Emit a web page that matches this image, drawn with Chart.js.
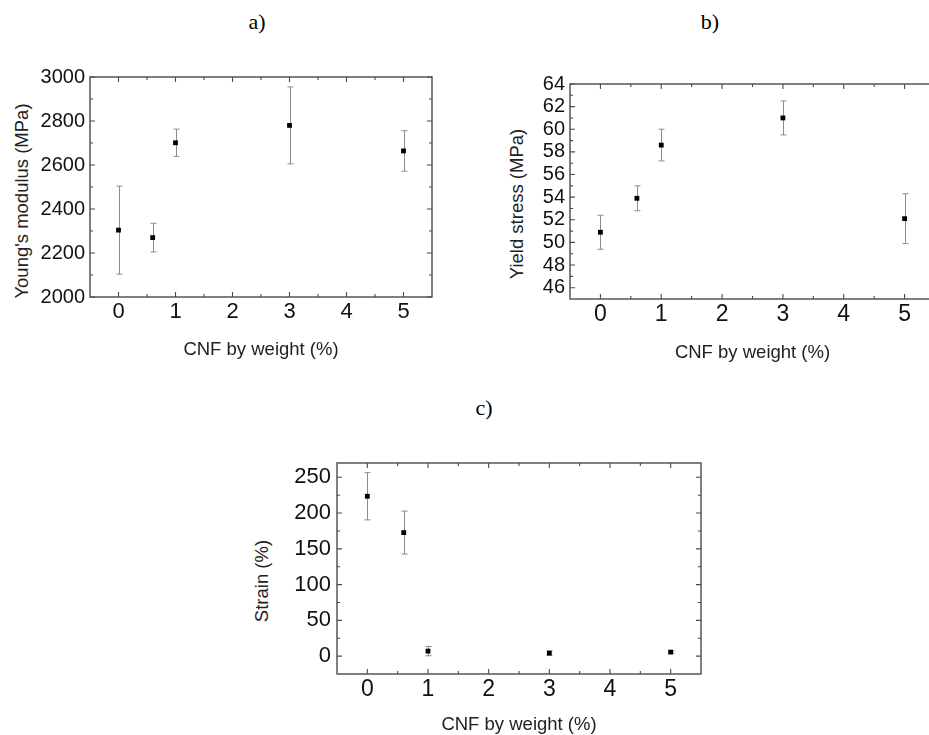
<!DOCTYPE html>
<html>
<head>
<meta charset="utf-8">
<script src="https://cdn.jsdelivr.net/npm/chart.js@4.4.0/dist/chart.umd.min.js"></script>
<style>
  html, body { margin: 0; padding: 0; background: #fff; }
  body { width: 929px; height: 735px; position: relative; overflow: hidden; }
  .box { position: absolute; }
  .panel { position: absolute; font-family: "Liberation Serif", "Times New Roman", serif;
           font-size: 22px; color: #000; transform: translate(-50%, -50%); white-space: nowrap; }
  .ytitle { position: absolute; font-family: "Liberation Sans", Arial, sans-serif; font-size: 18.5px;
            color: #222; white-space: nowrap; transform: translate(-50%, -50%) rotate(-90deg); }
</style>
</head>
<body>
<div class="panel" style="left:257px; top:22px;">a)</div>
<div class="panel" style="left:710px; top:22px;">b)</div>
<div class="panel" style="left:484px; top:408px;">c)</div>

<div class="ytitle" style="left:22px; top:201px;">Young's modulus (MPa)</div>
<div class="ytitle" style="left:517px; top:204px;">Yield stress (MPa)</div>
<div class="ytitle" style="left:262px; top:581px;">Strain (%)</div>

<div class="box" style="left:0px; top:0px; width:460px; height:380px;"><canvas id="chartA"></canvas></div>
<div class="box" style="left:490px; top:0px; width:470px; height:380px;"><canvas id="chartB"></canvas></div>
<div class="box" style="left:250px; top:390px; width:480px; height:360px;"><canvas id="chartC"></canvas></div>

<script>
// ---- data ----
const cnf = [0, 0.6, 1, 3, 5];

const youngMod = [2304, 2270, 2701, 2780, 2664];
const youngErr = [200, 65, 62, 175, 92];

const yieldStress = [50.9, 53.9, 58.6, 61.0, 52.1];
const yieldErr = [1.5, 1.1, 1.4, 1.5, 2.2];

const strain = [223.5, 172.7, 7, 4.2, 5.6];
const strainErr = [33, 30, 6.5, 3, 1.5];

const xTicks = [0, 1, 2, 3, 4, 5];
const youngTicks = [2000, 2200, 2400, 2600, 2800, 3000];
const yieldTicks = [46, 48, 50, 52, 54, 56, 58, 60, 62, 64];
const strainTicks = [0, 50, 100, 150, 200, 250];

const SANS = '"Liberation Sans", Arial, sans-serif';

// error bars, drawn under the markers
const errorBars = {
  id: "errorBars",
  beforeDatasetsDraw(chart) {
    const { ctx, scales: { x, y } } = chart;
    ctx.save();
    ctx.strokeStyle = "#8c8c8c";
    ctx.lineWidth = 1;
    chart.data.datasets.forEach((ds) => {
      if (!ds.errors) return;
      ds.data.forEach((p, i) => {
        const e = ds.errors[i];
        const px = Math.round(x.getPixelForValue(p.x)) + 0.5;
        const yt = y.getPixelForValue(p.y + e);
        const yb = y.getPixelForValue(p.y - e);
        ctx.beginPath();
        ctx.moveTo(px, yt); ctx.lineTo(px, yb);
        ctx.moveTo(px - 3, yt); ctx.lineTo(px + 3, yt);
        ctx.moveTo(px - 3, yb); ctx.lineTo(px + 3, yb);
        ctx.stroke();
      });
    });
    ctx.restore();
  },
};

// box frame with inward ticks on all four sides (major + minor)
const frame = {
  id: "frame",
  afterDraw(chart, args, o) {
    const { ctx, chartArea: a, scales: { x, y } } = chart;
    ctx.save();
    ctx.strokeStyle = "#4a4a4a";
    ctx.lineWidth = 1.4;
    ctx.strokeRect(a.left, a.top, a.right - a.left, a.bottom - a.top);
    ctx.lineWidth = 1.1;
    const xmark = (v, len) => {
      const px = x.getPixelForValue(v);
      ctx.beginPath();
      ctx.moveTo(px, a.bottom); ctx.lineTo(px, a.bottom - len);
      ctx.moveTo(px, a.top); ctx.lineTo(px, a.top + len);
      ctx.stroke();
    };
    const ymark = (v, len) => {
      const py = y.getPixelForValue(v);
      ctx.beginPath();
      ctx.moveTo(a.left, py); ctx.lineTo(a.left + len, py);
      ctx.moveTo(a.right, py); ctx.lineTo(a.right - len, py);
      ctx.stroke();
    };
    x.ticks.forEach((t) => xmark(t.value, 5));
    for (let v = x.min + o.xMinor; v < x.max; v += o.xMinor) {
      if (!x.ticks.some((t) => Math.abs(t.value - v) < 1e-6)) xmark(v, 3);
    }
    y.ticks.forEach((t) => ymark(t.value, 5));
    const y0 = y.ticks[0].value;
    for (let v = y0 - o.yMinor; v > y.min; v -= o.yMinor) ymark(v, 3);
    for (let v = y0 + o.yMinor; v < y.max; v += o.yMinor) {
      if (!y.ticks.some((t) => Math.abs(t.value - v) < 1e-6)) ymark(v, 3);
    }
    ctx.restore();
  },
};

function makeChart(id, cfg) {
  return new Chart(document.getElementById(id), {
    type: "scatter",
    data: {
      datasets: [{
        data: cnf.map((v, i) => ({ x: v, y: cfg.values[i] })),
        errors: cfg.errors,
        pointStyle: "rect",
        pointRadius: 3.4,
        pointHoverRadius: 3.4,
        backgroundColor: "#000",
        borderColor: "#000",
        borderWidth: 0,
      }],
    },
    options: {
      responsive: true,
      maintainAspectRatio: false,
      animation: false,
      layout: { padding: cfg.padding },
      plugins: {
        legend: { display: false },
        tooltip: { enabled: false },
        frame: { xMinor: 0.5, yMinor: cfg.yMinor },
      },
      scales: {
        x: {
          type: "linear",
          min: -0.5,
          max: 5.5,
          afterBuildTicks: (s) => { s.ticks = xTicks.map((v) => ({ value: v })); },
          afterFit: (s) => { s.height = cfg.xHeight; },
          grid: { display: false, drawTicks: false },
          border: { display: false },
          ticks: {
            color: "#111", padding: 2, autoSkip: false, maxRotation: 0,
            font: { family: SANS, size: cfg.xFont },
            callback: (v) => String(v),
          },
          title: {
            display: true,
            text: "CNF by weight (%)",
            color: "#222",
            font: { family: SANS, size: 18.5 },
            padding: { top: 0, bottom: cfg.titlePad },
          },
        },
        y: {
          type: "linear",
          min: cfg.yMin,
          max: cfg.yMax,
          afterBuildTicks: (s) => { s.ticks = cfg.ticks.map((v) => ({ value: v })); },
          afterFit: (s) => { s.width = cfg.yWidth; },
          grid: { display: false, drawTicks: false },
          border: { display: false },
          ticks: {
            color: "#111", padding: cfg.yPad, autoSkip: false,
            font: { family: SANS, size: cfg.yFont },
            callback: (v) => String(v),
          },
        },
      },
    },
    plugins: [errorBars, frame],
  });
}

makeChart("chartA", {
  values: youngMod, errors: youngErr, ticks: youngTicks,
  yMin: 2000, yMax: 3000, yMinor: 100,
  padding: { left: 0, top: 77, right: 28, bottom: 0 },
  yWidth: 90, xHeight: 83, titlePad: 19, xFont: 22, yFont: 20, yPad: 5,
});

makeChart("chartB", {
  values: yieldStress, errors: yieldErr, ticks: yieldTicks,
  yMin: 45, yMax: 64, yMinor: 1,
  padding: { left: 0, top: 84, right: 25, bottom: 0 },
  yWidth: 80, xHeight: 81, titlePad: 16, xFont: 23, yFont: 20, yPad: 5,
});

makeChart("chartC", {
  values: strain, errors: strainErr, ticks: strainTicks,
  yMin: -25, yMax: 270, yMinor: 25,
  padding: { left: 0, top: 73, right: 29, bottom: 0 },
  yWidth: 87, xHeight: 76, titlePad: 14, xFont: 23, yFont: 22, yPad: 6,
});
</script>
</body>
</html>
